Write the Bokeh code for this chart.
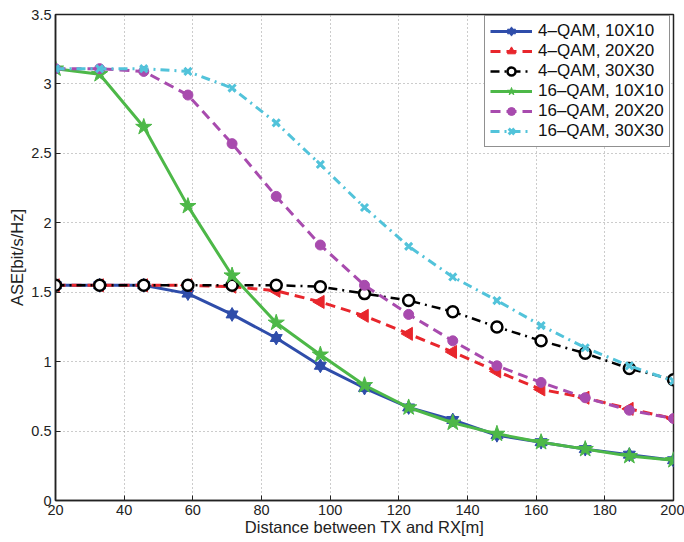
import numpy as np
from bokeh.plotting import figure
from bokeh.models import Legend, LegendItem, FixedTicker, Range1d
from bokeh.embed import file_html
from bokeh.resources import INLINE

x = [20, 32.86, 45.71, 58.57, 71.43, 84.29, 97.14, 110, 122.86, 135.71, 148.57, 161.43, 174.29, 187.14, 200]

qam4_10 = [1.55, 1.55, 1.55, 1.49, 1.34, 1.17, 0.97, 0.81, 0.67, 0.58, 0.47, 0.42, 0.37, 0.33, 0.29]
qam4_20 = [1.55, 1.55, 1.55, 1.55, 1.54, 1.51, 1.43, 1.33, 1.20, 1.07, 0.93, 0.80, 0.74, 0.66, 0.59]
qam4_30 = [1.55, 1.55, 1.55, 1.55, 1.55, 1.55, 1.54, 1.49, 1.44, 1.36, 1.25, 1.15, 1.06, 0.95, 0.87]
qam16_10 = [3.11, 3.07, 2.69, 2.12, 1.62, 1.28, 1.05, 0.83, 0.67, 0.56, 0.48, 0.42, 0.37, 0.32, 0.29]
qam16_20 = [3.11, 3.11, 3.09, 2.92, 2.57, 2.19, 1.84, 1.55, 1.34, 1.15, 0.97, 0.85, 0.74, 0.65, 0.59]
qam16_30 = [3.11, 3.11, 3.11, 3.09, 2.97, 2.72, 2.42, 2.11, 1.83, 1.61, 1.44, 1.26, 1.10, 0.97, 0.86]

labels = ["4\u2013QAM, 10X10", "4\u2013QAM, 20X20", "4\u2013QAM, 30X30",
          "16\u2013QAM, 10X10", "16\u2013QAM, 20X20", "16\u2013QAM, 30X30"]

x_ticks = [20, 40, 60, 80, 100, 120, 140, 160, 180, 200]
y_ticks = [0, 0.5, 1, 1.5, 2, 2.5, 3, 3.5]
y_tick_labels = ["0", "0.5", "1", "1.5", "2", "2.5", "3", "3.5"]

FONT = "Liberation Sans"
BLUE = "#2F4DAA"
RED = "#E8262C"
BLACK = "#000000"
GREEN = "#4DB848"
PURPLE = "#A84BAE"
CYAN = "#52C3DA"

p = figure(width=684, height=542, output_backend="svg", toolbar_location=None,
           x_range=Range1d(20, 200), y_range=Range1d(0, 3.5),
           min_border_left=55, min_border_right=11, min_border_top=14, min_border_bottom=42)
p.background_fill_color = "white"
p.border_fill_color = "white"
p.outline_line_color = "#222222"
p.outline_line_width = 1.5

for ax in (p.xaxis[0], p.yaxis[0]):
    ax.major_tick_in = 5
    ax.major_tick_out = 0
    ax.minor_tick_line_color = None
    ax.axis_line_color = "#222222"
    ax.axis_line_width = 1.5
    ax.major_tick_line_color = "#222222"
    ax.major_label_text_font = FONT
    ax.major_label_text_font_size = "14.5px"
    ax.major_label_text_color = "#222222"
    ax.axis_label_text_font = FONT
    ax.axis_label_text_font_size = "16.5px"
    ax.axis_label_text_font_style = "normal"
    ax.axis_label_text_color = "#222222"

p.xaxis.ticker = FixedTicker(ticks=x_ticks)
p.yaxis.ticker = FixedTicker(ticks=y_ticks)
p.yaxis.major_label_overrides = {t: s for t, s in zip(y_ticks, y_tick_labels)}
p.xaxis.axis_label = "Distance between TX and RX[m]"
p.yaxis.axis_label = "ASE[bit/s/Hz]"
p.xaxis.major_label_standoff = 4
p.xaxis.axis_label_standoff = 0
p.yaxis.major_label_standoff = 4
p.yaxis.axis_label_standoff = 2

p.grid.grid_line_color = "#999999"
p.grid.grid_line_dash = "1 3"
p.grid.grid_line_width = 1
p.xgrid.ticker = FixedTicker(ticks=x_ticks)
p.ygrid.ticker = FixedTicker(ticks=y_ticks)

items = []

# 4-QAM 10X10 : blue solid, hexagram
r1 = p.line(x, qam4_10, line_color=BLUE, line_width=3)
m1a = p.scatter(x, qam4_10, marker="triangle", size=12, fill_color=BLUE, line_color=BLUE)
m1b = p.scatter(x, qam4_10, marker="inverted_triangle", size=12, fill_color=BLUE, line_color=BLUE)
items.append(LegendItem(label=labels[0], renderers=[r1, m1a, m1b]))

# 4-QAM 20X20 : red dashed, left triangle
r2 = p.line(x, qam4_20, line_color=RED, line_width=3, line_dash="10 6")
m2 = p.scatter(x, qam4_20, marker="triangle", angle=np.pi / 2, size=13, fill_color=RED, line_color=RED)
items.append(LegendItem(label=labels[1], renderers=[r2, m2]))

# 4-QAM 30X30 : black dash-dot, hollow circle
r3 = p.line(x, qam4_30, line_color=BLACK, line_width=2.5, line_dash="9 5 2 5")
m3 = p.scatter(x, qam4_30, marker="circle", size=11, fill_color="white", line_color=BLACK, line_width=2.5)
items.append(LegendItem(label=labels[2], renderers=[r3, m3]))

# 16-QAM 10X10 : green solid, pentagram
r4 = p.line(x, qam16_10, line_color=GREEN, line_width=3)
m4 = p.scatter(x, qam16_10, marker="star", size=17, fill_color=GREEN, line_color=GREEN)
items.append(LegendItem(label=labels[3], renderers=[r4, m4]))

# 16-QAM 20X20 : purple dashed, filled circle
r5 = p.line(x, qam16_20, line_color=PURPLE, line_width=3, line_dash="10 6")
m5 = p.scatter(x, qam16_20, marker="circle", size=10, fill_color=PURPLE, line_color=PURPLE)
items.append(LegendItem(label=labels[4], renderers=[r5, m5]))

# 16-QAM 30X30 : cyan dash-dot, x
r6 = p.line(x, qam16_30, line_color=CYAN, line_width=3, line_dash="9 5 2 5")
m6 = p.scatter(x, qam16_30, marker="x", size=10, line_color=CYAN, line_width=3)
items.append(LegendItem(label=labels[5], renderers=[r6, m6]))

legend = Legend(items=items, location=(429, 353))
legend.margin = 0
legend.padding = 5
legend.spacing = 0
legend.label_height = 20
legend.glyph_height = 20
legend.glyph_width = 42
legend.label_standoff = 6
legend.label_text_font = FONT
legend.label_text_font_size = "17px"
legend.label_text_color = "#111111"
legend.border_line_color = "#222222"
legend.border_line_width = 1.2
legend.background_fill_color = "white"
legend.background_fill_alpha = 1
p.add_layout(legend)

open("out.html", "w").write(file_html(p, INLINE))
